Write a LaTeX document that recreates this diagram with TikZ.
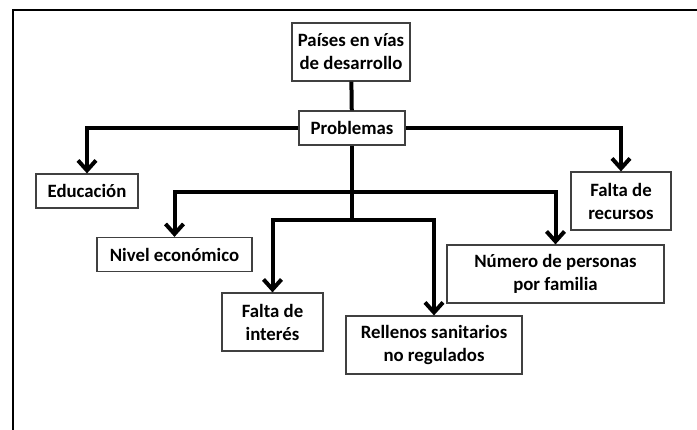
\documentclass[tikz,border=0pt]{standalone}
\usepackage{fontspec}
\setmainfont{Carlito}
\usetikzlibrary{arrows.meta}
\begin{document}
\begin{tikzpicture}[x=1pt,y=-1pt,
        caja/.style={draw=black!75,line width=1.2pt,fill=white,align=center,inner xsep=2pt,
            font=\bfseries\fontsize{18.8}{23}\selectfont,minimum height=34pt},
        caja2/.style={caja,minimum height=58pt},
        linea/.style={line width=4pt},
        flecha/.style={linea,-{Straight Barb[length=10pt,width=18pt]}}]
        \useasboundingbox (0,0) rectangle (697,430);
        \draw[line width=2.2pt] (13,430) -- (13,10) -- (697,10);
        \node[caja2,minimum width=118pt] (pais) at (351,52) {Países en vías\\de desarrollo};
        \node[caja,minimum width=106pt] (prob) at (352,128) {Problemas};
        \node[caja,minimum width=102pt] (edu) at (87,191) {Educación};
        \node[caja2,minimum width=100pt] (rec) at (621,201) {Falta de\\recursos};
        \node[caja,minimum width=155pt] (nivel) at (174.5,254.5) {Nivel económico};
        \node[caja2,minimum width=217pt] (num) at (555.5,274) {Número de personas\\por familia};
        \node[caja2,minimum width=101pt] (interes) at (272.5,322) {Falta de\\interés};
        \node[caja2,minimum width=176pt] (rell) at (434,345) {Rellenos sanitarios\\no regulados};
        \coordinate (j1) at (352,192);
        \coordinate (j2) at (352,220);
        \draw[linea] (pais) -- (prob);
        \draw[linea] (prob) -- (j2);
        \draw[flecha] (prob.west) -| (edu);
        \draw[flecha] (prob.east) -| (rec);
        \draw[flecha] (j1) -| (nivel);
        \draw[flecha] (j1) -| (num);
        \draw[flecha] (j2) -| (interes);
        \draw[flecha] (j2) -| (rell);
    \end{tikzpicture}
\end{document}
